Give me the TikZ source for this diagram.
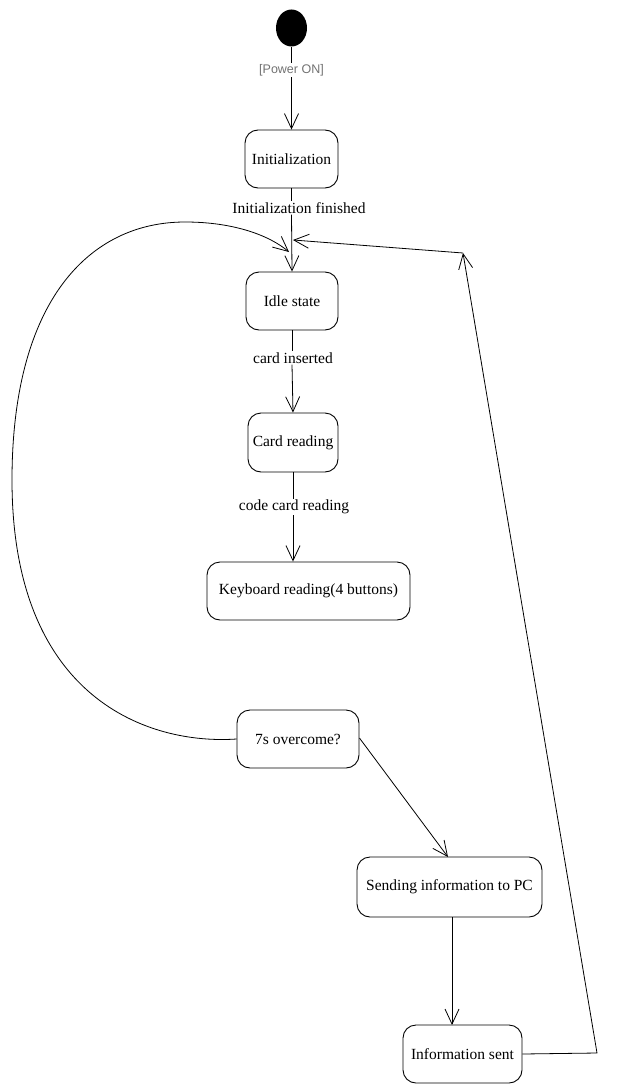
\documentclass[tikz,border=0pt]{standalone}
\usepackage{fontspec}
\setmainfont{Liberation Serif}
\setsansfont{Liberation Sans}
\usetikzlibrary{arrows.meta,shapes.geometric}

\tikzset{
  state/.style={draw, rounded corners=13pt, line width=0.9pt, inner sep=0pt,
    minimum height=58pt, align=center,
    font=\fontsize{15.5}{18}\selectfont},
  guard/.style={inner sep=1pt, font=\fontsize{15.5}{18}\selectfont},
  flow/.style={line width=0.8pt},
  arr/.style={flow, -{Straight Barb[length=15pt,width=14pt,line width=0.8pt]}},
}

\begin{document}
\begin{tikzpicture}[x=1pt, y=-1pt]
  \useasboundingbox (0,0) rectangle (624,1089);
  \fill[white] (0,0) rectangle (624,1089);

  % initial pseudo-state
  \node[ellipse, fill=black, minimum width=31pt, minimum height=37pt, inner sep=0pt] (start) at (291.5,28) {};
  \node[inner sep=1pt, text=black!55, font=\sffamily\fontsize{12.5}{14}\selectfont] (power) at (291.5,70) {[Power ON]};

  % states
  \node[state, minimum width=93pt]  (init)  at (291.5,159) {Initialization};
  \node[state, minimum width=92pt]  (idle)  at (292,301)   {Idle state};
  \node[state, minimum width=90pt, minimum height=59pt] (card) at (293,442.5) {Card reading};
  \node[state, minimum width=203pt] (keyb)  at (308.5,591) {Keyboard reading(4 buttons)};
  \node[state, minimum width=122pt] (seven) at (298,739)   {7s overcome?};
  \node[state, minimum width=185pt, minimum height=60pt] (send) at (449.5,887) {Sending information to PC};
  \node[state, minimum width=119pt] (sent)  at (462.5,1054) {Information sent};

  % transition labels
  \node[guard] (initfin)  at (299,208) {Initialization finished};
  \node[guard] (cardins)  at (293,358) {card inserted};
  \node[guard] (codecard) at (294,507) {code card reading};

  % junction points of the return paths
  \coordinate (j1) at (289,252);
  \coordinate (j2) at (293,240);
  \coordinate (c1) at (597,1053);
  \coordinate (c2) at (463,253);

  % main flow
  \draw[flow] (start.south) -- (power.north);
  \draw[arr] (power.south) -- (init.north);
  \draw[flow] (init.south) -- (init.south |- initfin.north);
  \draw[arr] (init.south |- initfin.south) -- (idle.north);
  \draw[flow] (idle.south) -- (idle.south |- cardins.north);
  \draw[arr] (idle.south |- cardins.south) -- (card.north);
  \draw[flow] (card.south) -- (card.south |- codecard.north);
  \draw[arr] (card.south |- codecard.south) -- (card.south |- keyb.north);

  % timeout loop back to the idle state
  \draw[arr] (seven.west) .. controls (150,745) and (12,700) .. (12,480)
    .. controls (12,300) and (90,222) .. (185,222)
    .. controls (235,222) and (270,236) .. (j1);

  % sending branch
  \draw[arr] (seven.east) ++(0,-1) -- (448,857);
  \draw[arr] (452,917) -- (452,1025);
  \draw[arr] (sent.east) -- (c1) -- (c2);
  \draw[arr] (c2) -- (j2);
\end{tikzpicture}
\end{document}
